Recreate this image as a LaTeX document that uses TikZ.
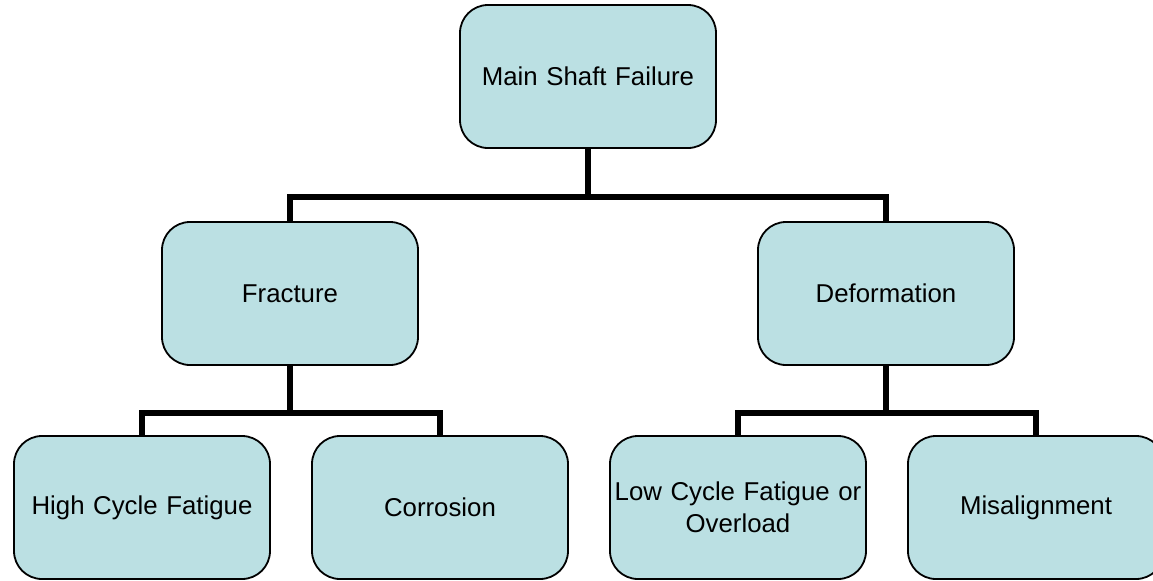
\documentclass[tikz,border=0pt]{standalone}
\usepackage{fontspec}
\setmainfont{Liberation Sans}
\definecolor{boxfill}{HTML}{BBE0E3}
\begin{document}
\begin{tikzpicture}[x=0.5pt,y=-0.5pt,
  box/.style={draw=black, line width=0.9pt, fill=boxfill, rounded corners=14pt,
    minimum width=128pt, minimum height=71.5pt, inner sep=0pt,
    text width=124pt, align=center,
    font=\fontsize{12.9}{16}\selectfont},
  conn/.style={draw=black, line width=3pt}]
\useasboundingbox (0,0) rectangle (1153,580);
\node[box] (main) at (588,76.5) {Main Shaft Failure};
\node[box] (frac) at (290,293.5) {Fracture};
\node[box] (defo) at (886,293.5) {Deformation};
\node[box] (hcf) at (142,507.5) {High Cycle Fatigue};
\node[box] (corr) at (440,507.5) {Corrosion};
\node[box] (lcf) at (738,507.5) {Low Cycle Fatigue or\\Overload};
\node[box] (mis) at (1036,507.5) {Misalignment};
\draw[conn] (main.south) -- ++(0,48) -| (frac.north);
\draw[conn] (main.south) -- ++(0,48) -| (defo.north);
\draw[conn] (frac.south) -- ++(0,47) -| (hcf.north);
\draw[conn] (frac.south) -- ++(0,47) -| (corr.north);
\draw[conn] (defo.south) -- ++(0,47) -| (lcf.north);
\draw[conn] (defo.south) -- ++(0,47) -| (mis.north);
\end{tikzpicture}
\end{document}
